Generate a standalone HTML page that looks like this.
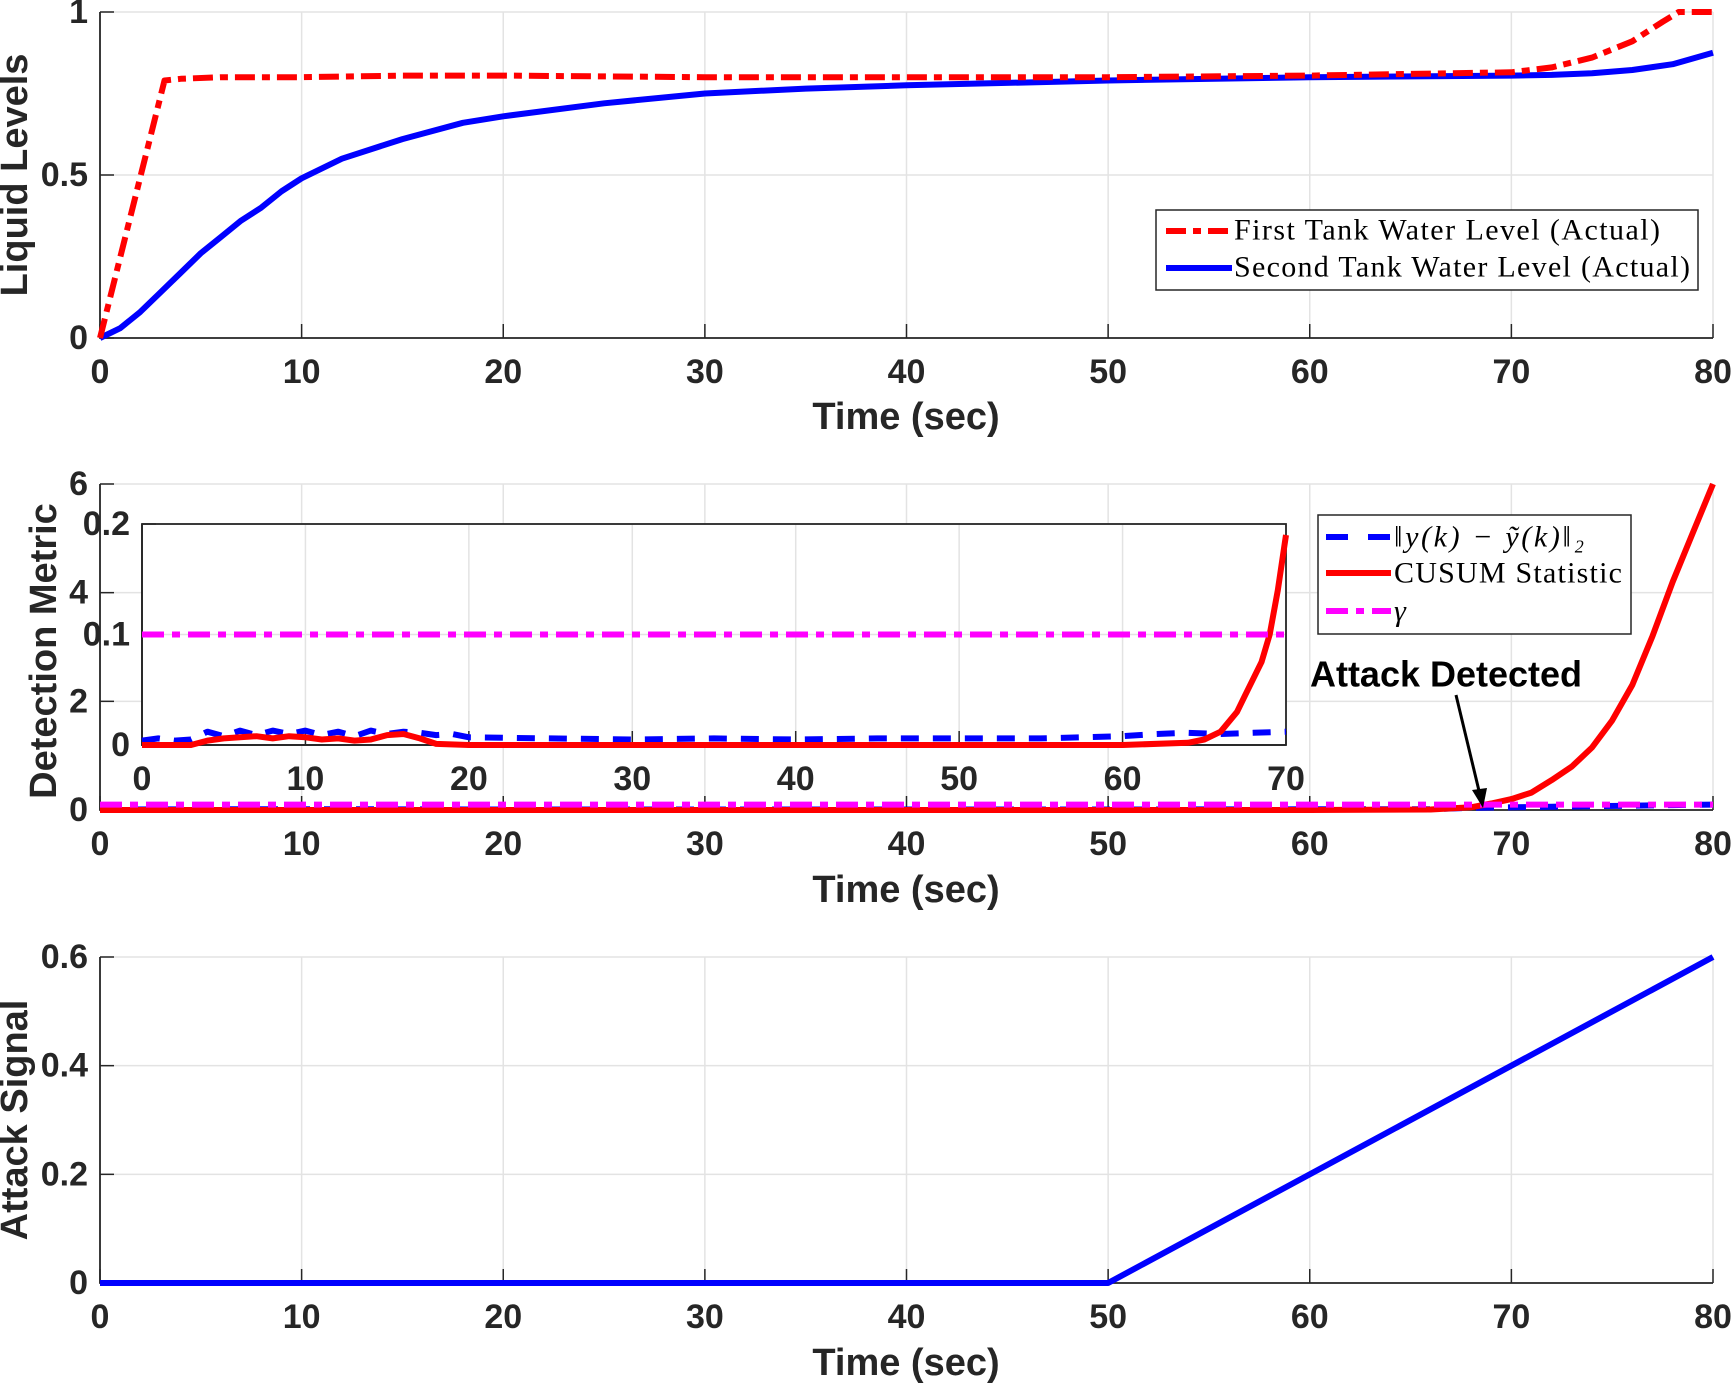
<!DOCTYPE html>
<html><head><meta charset="utf-8"><style>
html,body{margin:0;padding:0;background:#fff}
svg{display:block}
text{font-family:"Liberation Sans",Arial,sans-serif;font-weight:bold;fill:#262626}
.leg{font-family:"Liberation Serif",serif;font-weight:normal;fill:#000;font-size:30px}
</style></head><body>
<svg id="fig" width="1731" height="1383" viewBox="0 0 1731 1383" xmlns="http://www.w3.org/2000/svg"></svg>
<script>
// ---- data ----
const xTicks=[0,10,20,30,40,50,60,70,80];
const topYTicks=[0,0.5,1];
const midYTicks=[0,2,4,6];
const botYTicks=[0,0.2,0.4,0.6];
const insetXTicks=[0,10,20,30,40,50,60,70];
const insetYTicks=[0,0.1,0.2];
const tank1T=[0,3.2,4,6,8,10,15,20,30,40,50,60,65,70,72,74,76,77.5,78.3,80];
const tank1V=[0,0.79,0.795,0.80,0.80,0.80,0.805,0.805,0.80,0.80,0.80,0.805,0.81,0.815,0.83,0.86,0.91,0.97,1.0,1.0];
const tank2T=[0,1,2,3,4,5,6,7,8,9,10,12,15,18,20,25,30,35,40,50,60,70,72,74,76,78,80];
const tank2V=[0,0.03,0.08,0.14,0.2,0.26,0.31,0.36,0.4,0.45,0.49,0.55,0.61,0.66,0.68,0.72,0.75,0.765,0.775,0.79,0.80,0.805,0.807,0.812,0.822,0.84,0.875];
const cusumT=[0,60,66,68,69,70,71,72,73,74,75,76,77,78,79,80];
const cusumV=[0,0,0.01,0.05,0.12,0.2,0.32,0.55,0.8,1.15,1.65,2.3,3.2,4.2,5.1,6.0];
const residT=[0,10,20,30,40,50,60,66,68,70,72,74,76,78,80];
const residV=[0.01,0.015,0.01,0.01,0.01,0.01,0.012,0.015,0.04,0.05,0.06,0.07,0.08,0.09,0.1];
const gammaV=[0.1];
const insResT=[0,1,2,3,4,5,6,7,8,9,10,11,12,13,14,15,16,17,18,19,20,25,30,35,40,45,50,55,60,62,64,66,68,70];
const insResV=[0.004,0.006,0.004,0.005,0.012,0.008,0.013,0.009,0.013,0.01,0.013,0.009,0.012,0.008,0.013,0.01,0.012,0.011,0.009,0.01,0.007,0.006,0.005,0.006,0.005,0.006,0.006,0.006,0.008,0.01,0.011,0.01,0.011,0.012];
const insCusT=[0,3,4,5,6,7,8,9,10,11,12,13,14,15,16,17,18,20,30,40,50,60,64,65,66,67,67.5,68,68.5,69,69.5,70];
const insCusV=[0,0,0.004,0.006,0.007,0.008,0.006,0.008,0.007,0.005,0.006,0.004,0.005,0.009,0.01,0.006,0.001,0,0,0,0,0,0.002,0.005,0.012,0.03,0.045,0.06,0.075,0.1,0.14,0.19];
const attackT=[0,50,80];
const attackV=[0,0,0.6];

const svg=document.getElementById('fig');
const NS='http://www.w3.org/2000/svg';
function el(tag,attrs,parent){const e=document.createElementNS(NS,tag);for(const k in attrs)e.setAttribute(k,attrs[k]);(parent||svg).appendChild(e);return e;}
function txt(s,x,y,size,anchor,parent){const t=el('text',{x:x,y:y,'font-size':size,'text-anchor':anchor||'middle','dominant-baseline':'central'},parent);t.textContent=s;return t;}

function axes(name,L,R,T,B,xmin,xmax,ymin,ymax,xt,yt,tickSize){
  const g=el('g',{});
  
  
  const sx=v=>L+(v-xmin)/(xmax-xmin)*(R-L);
  const sy=v=>B-(v-ymin)/(ymax-ymin)*(B-T);
  el('rect',{x:L,y:T,width:R-L,height:B-T,fill:'#fff'},g);
  xt.forEach(v=>{el('line',{x1:sx(v),x2:sx(v),y1:T,y2:B,stroke:'#e3e3e3','stroke-width':1.5},g);});
  yt.forEach(v=>{el('line',{x1:L,x2:R,y1:sy(v),y2:sy(v),stroke:'#e3e3e3','stroke-width':1.5},g);});
  xt.forEach(v=>{el('line',{x1:sx(v),x2:sx(v),y1:B,y2:B-14,stroke:'#262626','stroke-width':1.5},g);
    const t=txt(String(v),sx(v),B+34,tickSize,'middle',g);
    
    });
  yt.forEach(v=>{el('line',{x1:L,x2:L+14,y1:sy(v),y2:sy(v),stroke:'#262626','stroke-width':1.5},g);
    const t=txt(String(v),L-12,sy(v),tickSize,'end',g);
    
    });
  el('path',{d:`M${L},${T}V${B}H${R}`,fill:'none',stroke:'#262626','stroke-width':1.8},g);
  return {g,sx,sy};
}
function line(ax,T,V,color,w,dash,name){
  const d=T.map((t,i)=>(i?'L':'M')+ax.sx(t).toFixed(1)+','+ax.sy(V[i]).toFixed(1)).join('');
  const p=el('path',{d:d,fill:'none',stroke:color,'stroke-width':w,'stroke-dasharray':dash||'none','stroke-linejoin':'round'},ax.g);
  
  
  return p;
}
function label(s,x,y,rot,name){const t=txt(s,x,y,38,'middle');if(rot)t.setAttribute('transform',`rotate(-90 ${x} ${y})`);
  
  }

const TS=34;
// ---- top panel ----
const a1=axes('liquid-levels-axes',100,1713,12,338,0,80,0,1,xTicks,topYTicks,TS);
line(a1,tank2T,tank2V,'#0000ff',6,null,'second-tank-line');
line(a1,tank1T,tank1V,'#ff0000',6,'20 7 8 7','first-tank-line');
label('Time (sec)',906,417,false,'x-axis-title-top');
label('Liquid Levels',15,175,true,'y-axis-title-top');
const lg1=el('g',{});


el('rect',{x:1156,y:210,width:542,height:80,fill:'#fff',stroke:'#262626','stroke-width':1.5},lg1);
el('line',{x1:1166,x2:1232,y1:231,y2:231,stroke:'#ff0000','stroke-width':6,'stroke-dasharray':'20 7 8 7'},lg1);
el('line',{x1:1166,x2:1232,y1:268,y2:268,stroke:'#0000ff','stroke-width':6},lg1);
let t=el('text',{x:1234,y:230,class:'leg','dominant-baseline':'central','textLength':426},lg1);t.textContent='First Tank Water Level (Actual)';
t=el('text',{x:1234,y:267,class:'leg','dominant-baseline':'central','textLength':456},lg1);t.textContent='Second Tank Water Level (Actual)';

// ---- middle panel ----
const a2=axes('detection-metric-axes',100,1713,484,810,0,80,0,6,xTicks,midYTicks,TS);
line(a2,residT,residV,'#0000ff',6,'18 14','residual-norm-line');
line(a2,cusumT,cusumV,'#ff0000',6,null,'cusum-line');
line(a2,[0,80],[gammaV[0],gammaV[0]],'#ff00ff',6,'22 8 8 8','gamma-threshold-line');
label('Time (sec)',906,890,false,'x-axis-title-mid');
label('Detection Metric',44,651,true,'y-axis-title-mid');
const a3=axes('inset-axes',142,1286,524,745,0,70,0,0.2,insetXTicks,insetYTicks,TS);
el('rect',{x:142,y:524,width:1144,height:221,fill:'none',stroke:'#262626','stroke-width':1.8},a3.g);
line(a3,insResT,insResV,'#0000ff',6,'18 14','inset-residual-line');
line(a3,insCusT,insCusV,'#ff0000',6,null,'inset-cusum-line');
line(a3,[0,70],[gammaV[0],gammaV[0]],'#ff00ff',6,'22 8 8 8','inset-gamma-line');
const lg2=el('g',{});


el('rect',{x:1318,y:515,width:313,height:119,fill:'#fff',stroke:'#262626','stroke-width':1.5},lg2);
el('line',{x1:1326,x2:1391,y1:537,y2:537,stroke:'#0000ff','stroke-width':6,'stroke-dasharray':'22 20'},lg2);
el('line',{x1:1326,x2:1391,y1:573,y2:573,stroke:'#ff0000','stroke-width':6},lg2);
el('line',{x1:1326,x2:1391,y1:611,y2:611,stroke:'#ff00ff','stroke-width':6,'stroke-dasharray':'22 8 8 8'},lg2);
t=el('text',{x:1394,y:537,class:'leg','dominant-baseline':'central','font-style':'italic','textLength':190},lg2);t.textContent='‖y(k) − ỹ(k)‖₂';
t=el('text',{x:1394,y:573,class:'leg','dominant-baseline':'central','textLength':228},lg2);t.textContent='CUSUM Statistic';
t=el('text',{x:1394,y:611,class:'leg','dominant-baseline':'central','font-style':'italic'},lg2);t.textContent='γ';
const an=txt('Attack Detected',1446,674,36,'middle');


an.style.fill='#000';
const ar=el('g',{});


el('line',{x1:1456,y1:695,x2:1480,y2:795,stroke:'#000','stroke-width':3},ar);
el('path',{d:'M1483,808 L1472,790 L1487,788 Z',fill:'#000'},ar);

// ---- bottom panel ----
const a4=axes('attack-signal-axes',100,1713,957,1283,0,80,0,0.6,xTicks,botYTicks,TS);
line(a4,attackT,attackV,'#0000ff',6,null,'attack-signal-line');
label('Time (sec)',906,1363,false,'x-axis-title-bottom');
label('Attack Signal',15,1120,true,'y-axis-title-bottom');
</script>
</body></html>
